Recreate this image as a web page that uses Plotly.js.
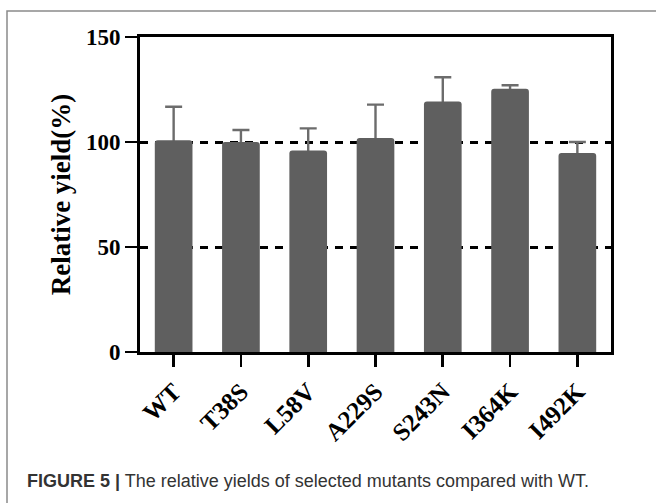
<!DOCTYPE html>
<html>
<head>
<meta charset="utf-8">
<script src="https://cdn.plot.ly/plotly-3.0.1.min.js"></script>
<style>
html,body{margin:0;padding:0;background:#fff;}
#chart{width:656px;height:503px;}
</style>
</head>
<body>
<div id="chart"></div>
<script>
const categories = ['WT','T38S','L58V','A229S','S243N','I364K','I492K'];
const yieldValues = [100.8, 100.0, 96.0, 101.9, 119.3, 125.3, 94.8];
const yieldErrors = [16.0, 5.7, 10.5, 15.9, 11.5, 1.7, 5.2];
const yTicks = [0, 50, 100, 150];
const yTitle = 'Relative yield(%)';
const caption = '<b>FIGURE 5 |</b> The relative yields of selected mutants compared with WT.';

// error bars drawn first (hidden bars), then the visible bars cover the lower half
const errTrace = {
  type: 'bar',
  x: categories,
  y: yieldValues,
  marker: {color: 'rgba(0,0,0,0)', line: {width: 0}},
  error_y: {
    type: 'data', symmetric: true,
    array: yieldErrors,
    color: '#6c6c6c', thickness: 2.4, width: 8.5
  },
  hoverinfo: 'none'
};
const barTrace = {
  type: 'bar',
  x: categories,
  y: yieldValues,
  marker: {color: '#5f5f5f', line: {width: 0}, cornerradius: 3},
  hoverinfo: 'none'
};

const serif = 'Liberation Serif, Times New Roman, serif';

const layout = {
  width: 656, height: 503,
  margin: {l: 140, r: 45, t: 37, b: 151},
  paper_bgcolor: '#fff', plot_bgcolor: '#fff',
  showlegend: false,
  barmode: 'overlay',
  bargap: 0.44,
  xaxis: {
    type: 'category',
    range: [-0.5, 6.5],
    showline: true, linecolor: '#000', linewidth: 3, mirror: true,
    ticks: 'outside', ticklen: 12, tickwidth: 2.6, tickcolor: '#000',
    tickangle: -45,
    tickfont: {family: serif, size: 25, color: '#000', weight: 'bold'},
    showgrid: false, zeroline: false, automargin: false, fixedrange: true
  },
  yaxis: {
    range: [0, 150],
    tickvals: yTicks,
    showline: true, linecolor: '#000', linewidth: 3, mirror: true,
    ticks: 'outside', ticklen: 12, tickwidth: 2.6, tickcolor: '#000',
    tickfont: {family: serif, size: 23, color: '#000', weight: 'bold'},
    showgrid: true, gridcolor: '#000', gridwidth: 3, griddash: '8px,7px',
    zeroline: false, automargin: false, fixedrange: true,
    title: {text: yTitle, font: {family: serif, size: 27, color: '#000', weight: 'bold'}, standoff: 8}
  },
  shapes: [{
    type: 'rect', xref: 'paper', yref: 'paper',
    x0: (7 - 140) / 471, x1: (700 - 140) / 471,
    y0: (352 - 560) / 315, y1: (352 - 11) / 315,
    line: {color: '#8a8a8a', width: 1.5}, fillcolor: 'rgba(0,0,0,0)', layer: 'below'
  }],
  annotations: [{
    text: caption, xref: 'paper', yref: 'paper',
    x: (25 - 140) / 471, y: (352 - 481) / 315,
    xanchor: 'left', yanchor: 'middle', showarrow: false,
    font: {family: 'Liberation Sans, Arial, sans-serif', size: 18, color: '#333'}
  }]
};

Plotly.newPlot('chart', [errTrace, barTrace], layout, {staticPlot: true, displayModeBar: false});
</script>
</body>
</html>
